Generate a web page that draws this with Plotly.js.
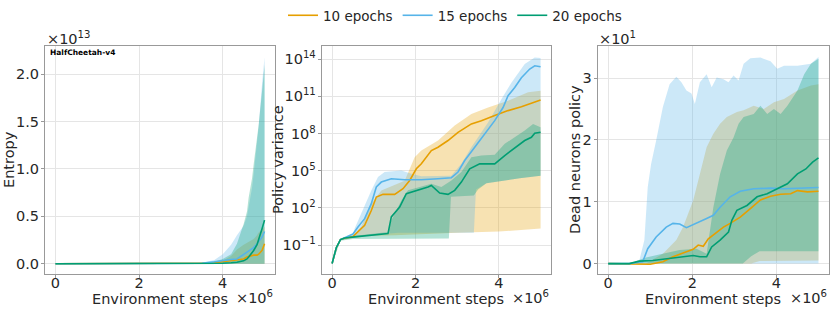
<!DOCTYPE html>
<html><head><meta charset="utf-8">
<script src="https://cdn.plot.ly/plotly-3.0.1.min.js"></script>
<style>html,body{margin:0;padding:0;background:#fff}#chart{width:831px;height:310px}</style>
</head><body><div id="chart"></div>
<script>
// ---------- Data (x in millions of environment steps) ----------
const seriesNames = ['10 epochs', '15 epochs', '20 epochs'];
const seriesColors = ['#E69F00', '#56B4E9', '#009E73'];
const bandColors = ['rgba(230,159,0,0.3)', 'rgba(86,180,233,0.3)', 'rgba(0,158,115,0.3)'];

// Panel 1: Entropy (units of 1e13)
const entX = [0, 1, 2, 3, 3.5, 3.8, 4.0, 4.2, 4.34, 4.5, 4.58, 4.62, 4.7, 4.74, 4.82, 4.86, 4.94, 5.0];
const entOrange = [0, 0, 0, 0, 0.002, 0.008, 0.02, 0.03, 0.035, 0.05, 0.07, 0.075, 0.085, 0.09, 0.09, 0.1, 0.14, 0.21];
const entBlue = [0, 0, 0, 0, 0.005, 0.02, 0.035, 0.045, 0.05, 0.1, 0.12, 0.13, 0.16, 0.17, 0.21, 0.23, 0.28, 0.34];
const entGreen = [0, 0, 0, 0, 0, 0.002, 0.005, 0.01, 0.015, 0.03, 0.05, 0.07, 0.11, 0.14, 0.2, 0.25, 0.37, 0.46];
const entOrangeHi = [0, 0, 0, 0, 0.005, 0.015, 0.03, 0.08, 0.15, 0.2, 0.22, 0.23, 0.25, 0.26, 0.3, 0.33, 0.36, 0.39];
const entBlueHi = [0, 0, 0, 0, 0.01, 0.04, 0.1, 0.2, 0.3, 0.4, 0.5, 0.6, 0.8, 0.95, 1.25, 1.45, 1.9, 2.18];
const entGreenHi = [0, 0, 0, 0, 0.005, 0.02, 0.05, 0.1, 0.21, 0.42, 0.55, 0.7, 0.9, 1.05, 1.3, 1.47, 1.82, 2.1];
const entLoX = [0, 5.0];
const entLo = [0, 0];

// Panel 2: Policy variance (log10 of value)
const pvOrangeX = [0, 0.1, 0.2, 0.3, 0.5, 0.62, 0.78, 0.94, 1.06, 1.22, 1.5, 1.7, 1.86, 2.02, 2.14, 2.38, 2.54, 2.78, 3.02, 3.34, 3.58, 3.9, 4.22, 4.54, 5.0];
const pvOrangeLog = [-2.47, -1.2, -0.55, -0.42, -0.3, 0.07, 0.6, 1.8, 2.88, 3.1, 3.1, 3.55, 4.22, 5.16, 5.56, 6.63, 6.9, 7.44, 8.1, 8.78, 9.04, 9.45, 9.85, 10.17, 10.7];
const pvBlueX = [0, 0.1, 0.2, 0.3, 0.5, 0.62, 0.78, 0.94, 1.06, 1.18, 1.42, 1.74, 2.14, 2.54, 2.86, 3.02, 3.18, 3.42, 3.66, 3.9, 4.1, 4.22, 4.38, 4.54, 4.74, 4.86, 5.0];
const pvBlueLog = [-2.47, -1.2, -0.55, -0.42, -0.1, 0.47, 1.14, 2.35, 3.69, 4.09, 4.36, 4.28, 4.28, 4.36, 4.44, 4.9, 5.83, 6.9, 7.97, 9.04, 10.1, 11.05, 11.72, 12.5, 13.2, 13.46, 13.38];
const pvGreenX = [0, 0.1, 0.2, 0.3, 0.54, 1.0, 1.34, 1.42, 1.5, 1.62, 1.78, 2.06, 2.3, 2.38, 2.58, 2.78, 2.94, 3.1, 3.3, 3.54, 3.9, 4.14, 4.42, 4.62, 4.78, 4.86, 5.0];
const pvGreenLog = [-2.47, -1.2, -0.55, -0.42, -0.33, -0.2, -0.06, 1.28, 1.6, 2.08, 3.15, 3.42, 3.69, 3.82, 3.2, 3.1, 3.42, 4.09, 5.16, 5.56, 5.56, 6.23, 6.9, 7.44, 7.7, 8.03, 8.1];
const pvOrangeHiX = [0, 0.2, 0.5, 0.7, 0.94, 1.18, 1.74, 1.98, 2.14, 2.54, 2.94, 3.34, 3.74, 4.22, 4.7, 5.0];
const pvOrangeHiLog = [-2.47, -0.5, -0.2, 0.5, 2.35, 3.4, 4.2, 6.1, 6.63, 7.44, 8.64, 9.58, 10.1, 10.65, 11.32, 11.46];
const pvOrangeLoX = [0, 0.2, 0.5, 0.8, 1.5, 2.0, 3.0, 4.0, 5.0];
const pvOrangeLoLog = [-2.47, -0.6, -0.4, -0.25, -0.2, -0.15, 0.0, 0.1, 0.34];
const pvBlueHiX = [0, 0.2, 0.5, 0.54, 0.94, 1.1, 1.26, 1.66, 1.9, 2.14, 2.86, 3.1, 3.34, 3.74, 4.06, 4.3, 4.62, 4.86, 5.0];
const pvBlueHiLog = [-2.47, -0.5, -0.15, 0.34, 3.4, 4.5, 4.9, 5.03, 4.75, 4.55, 4.6, 5.56, 6.9, 8.9, 10.77, 12.1, 13.6, 14.13, 14.1];
const pvBlueLoX = [0, 0.2, 0.5, 1.0, 1.2, 1.6, 2.2, 2.9, 3.4, 3.45, 3.7, 4.5, 5.0];
const pvBlueLoLog = [-2.47, -0.6, -0.35, -0.2, -0.1, 0, 0, 0, 0, 3.5, 4.0, 4.4, 4.6];
const pvGreenHiX = [0, 0.2, 0.5, 1.34, 1.42, 1.66, 1.82, 2.14, 2.38, 2.62, 2.86, 3.1, 3.34, 3.58, 3.9, 4.14, 4.38, 4.62, 4.82, 5.0];
const pvGreenHiLog = [-2.47, -0.5, -0.25, 0.07, 1.0, 2.6, 3.42, 3.7, 3.95, 3.7, 4.22, 4.9, 6.1, 6.23, 6.3, 7.17, 7.7, 8.24, 8.78, 8.5];
const pvGreenLoX = [0, 0.2, 0.5, 1.0, 2.0, 2.8, 2.85, 3.4, 3.5, 3.7, 4.5, 5.0];
const pvGreenLoLog = [-2.47, -0.65, -0.5, -0.47, -0.47, -0.45, 2.9, 3.0, 3.5, 4.0, 4.4, 4.6];

// Panel 3: Dead neurons policy (units of 10)
const dnBlueX = [0, 0.5, 0.82, 0.94, 1.14, 1.38, 1.54, 1.7, 1.86, 2.1, 2.34, 2.5, 2.66, 2.9, 3.14, 3.46, 3.86, 4.18, 4.5, 5.0];
const dnBlue = [0, 0, 0.03, 0.24, 0.43, 0.59, 0.65, 0.64, 0.58, 0.65, 0.73, 0.78, 0.91, 1.08, 1.17, 1.21, 1.22, 1.21, 1.22, 1.23];
const dnOrangeX = [0, 0.5, 1.0, 1.3, 1.54, 1.78, 2.02, 2.14, 2.26, 2.38, 2.58, 2.74, 2.9, 3.14, 3.38, 3.62, 3.86, 4.1, 4.34, 4.5, 4.74, 5.0];
const dnOrange = [0, 0, -0.01, 0.03, 0.11, 0.17, 0.23, 0.30, 0.28, 0.40, 0.51, 0.59, 0.65, 0.75, 0.89, 1.03, 1.09, 1.12, 1.13, 1.18, 1.16, 1.17];
const dnGreenX = [0, 0.5, 0.74, 1.06, 1.3, 1.62, 1.86, 2.02, 2.18, 2.34, 2.46, 2.66, 2.86, 2.94, 3.06, 3.3, 3.54, 3.78, 4.02, 4.26, 4.5, 4.7, 4.86, 5.0];
const dnGreen = [0, 0, 0.04, 0.05, 0.07, 0.1, 0.12, 0.13, 0.11, 0.11, 0.27, 0.38, 0.51, 0.70, 0.86, 0.94, 1.08, 1.13, 1.21, 1.29, 1.45, 1.53, 1.64, 1.71];
const dnBlueHiX = [0, 0.5, 0.74, 0.86, 0.94, 1.02, 1.14, 1.3, 1.46, 1.62, 1.74, 1.86, 1.98, 2.06, 2.18, 2.34, 2.46, 2.58, 2.74, 2.86, 2.98, 3.1, 3.22, 3.38, 3.62, 3.86, 4.02, 4.18, 4.5, 4.82, 5.0];
const dnBlueHi = [0, 0, 0.05, 0.38, 1.24, 1.61, 1.99, 2.53, 2.9, 3.02, 2.93, 2.8, 2.75, 2.58, 2.93, 3.06, 2.85, 3.01, 2.98, 2.93, 3.04, 2.96, 3.23, 3.32, 3.33, 3.27, 3.15, 3.2, 3.2, 3.23, 3.34];
const dnBlueLoX = [0, 5.0];
const dnBlueLo = [0, 0];
const dnOrangeHiX = [0, 0.9, 1.3, 1.62, 1.78, 2.02, 2.18, 2.34, 2.5, 2.66, 2.82, 3.06, 3.22, 3.46, 3.7, 3.94, 4.18, 4.5, 4.82, 5.0];
const dnOrangeHi = [0, 0, 0.16, 0.38, 0.59, 1.02, 1.45, 1.88, 2.1, 2.26, 2.37, 2.45, 2.48, 2.55, 2.5, 2.61, 2.66, 2.8, 2.88, 2.9];
const dnOrangeLoX = [0, 3.4, 3.6, 5.0];
const dnOrangeLo = [0, 0, 0.04, 0.05];
const dnGreenHiX = [0, 0.5, 0.9, 1.3, 1.7, 2.1, 2.34, 2.5, 2.66, 2.82, 2.98, 3.1, 3.22, 3.46, 3.62, 3.78, 3.94, 4.1, 4.26, 4.5, 4.66, 4.82, 5.0];
const dnGreenHi = [0, 0, 0.1, 0.16, 0.22, 0.24, 0.16, 0.91, 1.45, 1.83, 2.04, 2.26, 2.37, 2.42, 2.55, 2.42, 2.5, 2.42, 2.55, 2.8, 3.06, 3.23, 3.31];
const dnGreenLoX = [0, 3.2, 3.4, 3.6, 5.0];
const dnGreenLo = [0, 0, 0.12, 0.2, 0.2];

// ---------- Build traces ----------
const pow10 = a => a.map(v => Math.pow(10, v));
function band(xHi, yHi, xLo, yLo, i, xa, ya) {
  return {x: xHi.concat(xLo.slice().reverse()), y: yHi.concat(yLo.slice().reverse()),
    type: 'scatter', mode: 'lines', fill: 'toself', fillcolor: bandColors[i],
    line: {width: 0, color: 'rgba(0,0,0,0)'}, hoverinfo: 'skip', showlegend: false, xaxis: xa, yaxis: ya};
}
function line(x, y, i, xa, ya, legend) {
  return {x: x, y: y, type: 'scatter', mode: 'lines', name: seriesNames[i],
    line: {color: seriesColors[i], width: 1.6}, showlegend: legend, legendgroup: 'g' + i,
    xaxis: xa, yaxis: ya};
}
const traces = [
  band(entX, entOrangeHi, entLoX, entLo, 0, 'x', 'y'),
  band(entX, entBlueHi, entLoX, entLo, 1, 'x', 'y'),
  band(entX, entGreenHi, entLoX, entLo, 2, 'x', 'y'),
  band(pvOrangeHiX, pow10(pvOrangeHiLog), pvOrangeLoX, pow10(pvOrangeLoLog), 0, 'x2', 'y2'),
  band(pvBlueHiX, pow10(pvBlueHiLog), pvBlueLoX, pow10(pvBlueLoLog), 1, 'x2', 'y2'),
  band(pvGreenHiX, pow10(pvGreenHiLog), pvGreenLoX, pow10(pvGreenLoLog), 2, 'x2', 'y2'),
  band(dnOrangeHiX, dnOrangeHi, dnOrangeLoX, dnOrangeLo, 0, 'x3', 'y3'),
  band(dnBlueHiX, dnBlueHi, dnBlueLoX, dnBlueLo, 1, 'x3', 'y3'),
  band(dnGreenHiX, dnGreenHi, dnGreenLoX, dnGreenLo, 2, 'x3', 'y3'),
  line(entX, entOrange, 0, 'x', 'y', true),
  line(entX, entBlue, 1, 'x', 'y', true),
  line(entX, entGreen, 2, 'x', 'y', true),
  line(pvOrangeX, pow10(pvOrangeLog), 0, 'x2', 'y2', false),
  line(pvBlueX, pow10(pvBlueLog), 1, 'x2', 'y2', false),
  line(pvGreenX, pow10(pvGreenLog), 2, 'x2', 'y2', false),
  line(dnOrangeX, dnOrange, 0, 'x3', 'y3', false),
  line(dnBlueX, dnBlue, 1, 'x3', 'y3', false),
  line(dnGreenX, dnGreen, 2, 'x3', 'y3', false)
];

// ---------- Layout ----------
const W = 831, H = 310;
const font = {family: 'DejaVu Sans, sans-serif', size: 14.5, color: '#262626'};
const px = v => v / W, py = v => 1 - v / H;
const yDom = [py(274), py(45)];
function xax(l, r, anchor) {
  return {domain: [px(l), px(r)], range: [-0.25, 5.25], tickvals: [0, 2, 4], ticktext: ['0', '2', '4'],
    showline: true, mirror: true, linecolor: '#999', linewidth: 1, ticks: 'outside', ticklen: 3,
    tickcolor: '#999', showgrid: true, gridcolor: '#e5e5e5', zeroline: false, anchor: anchor,
    tickfont: font, ticklabelstandoff: -8, fixedrange: true};
}
function yax(anchor, extra) {
  return Object.assign({domain: yDom, showline: true, mirror: true, linecolor: '#999', linewidth: 1,
    ticks: 'outside', ticklen: 3, tickcolor: '#999', showgrid: true, gridcolor: '#e5e5e5',
    zeroline: false, anchor: anchor, tickfont: font, ticklabelstandoff: -1, fixedrange: true}, extra);
}
const P = [[45, 275], [321.7, 551], [597.7, 829]];
const ann = [];
const xTitles = ['Environment steps', 'Environment steps', 'Environment steps'];
const yTitles = ['Entropy', 'Policy variance', 'Dead neurons policy'];
const yTitleX = [9, 278, 575];
P.forEach((p, i) => {
  ann.push({text: xTitles[i], x: px((p[0] + p[1]) / 2), y: py(299), xref: 'paper', yref: 'paper',
    xanchor: 'center', yanchor: 'middle', showarrow: false, font: font});
  ann.push({text: '×10<sup>6</sup>', x: px(p[1]), y: py(297), xref: 'paper', yref: 'paper',
    xanchor: 'right', yanchor: 'middle', showarrow: false, font: font});
  ann.push({text: yTitles[i], x: px(yTitleX[i]), y: py(159.5), xref: 'paper', yref: 'paper',
    xanchor: 'center', yanchor: 'middle', textangle: -90, showarrow: false, font: font});
});
ann.push({text: '×10<sup>13</sup>', x: px(45), y: py(37), xref: 'paper', yref: 'paper',
  xanchor: 'left', yanchor: 'middle', showarrow: false, font: font});
ann.push({text: '×10<sup>1</sup>', x: px(597), y: py(37), xref: 'paper', yref: 'paper',
  xanchor: 'left', yanchor: 'middle', showarrow: false, font: font});
ann.push({text: '<b>HalfCheetah-v4</b>', x: px(48), y: py(52), xref: 'paper', yref: 'paper',
  xanchor: 'left', yanchor: 'middle', showarrow: false, font: {family: 'DejaVu Sans, sans-serif', size: 7.5, color: '#000'}});

const layout = {
  width: W, height: H, margin: {l: 0, r: 0, t: 0, b: 0}, paper_bgcolor: '#fff', plot_bgcolor: '#fff',
  font: font, showlegend: true,
  legend: {orientation: 'h', x: px(455), y: py(15), xanchor: 'center', yanchor: 'middle',
    font: {family: 'DejaVu Sans, sans-serif', size: 13.5, color: '#262626'}, itemwidth: 30, bgcolor: 'rgba(0,0,0,0)'},
  xaxis: xax(P[0][0], P[0][1], 'y'),
  yaxis: yax('x', {range: [-0.11, 2.3], tickvals: [0, 0.5, 1, 1.5, 2], ticktext: ['0.0', '0.5', '1.0', '1.5', '2.0']}),
  xaxis2: xax(P[1][0], P[1][1], 'y2'),
  yaxis2: yax('x2', {type: 'log', range: [-3.33, 15.07], tickvals: [1e-1, 1e2, 1e5, 1e8, 1e11, 1e14],
    ticktext: ['10<sup>−1</sup>', '10<sup>2</sup>', '10<sup>5</sup>', '10<sup>8</sup>', '10<sup>11</sup>', '10<sup>14</sup>']}),
  xaxis3: xax(P[2][0], P[2][1], 'y3'),
  yaxis3: yax('x3', {range: [-0.17, 3.52], tickvals: [0, 1, 2, 3], ticktext: ['0', '1', '2', '3']}),
  annotations: ann
};
Plotly.newPlot('chart', traces, layout, {staticPlot: true, displayModeBar: false});
</script></body></html>
